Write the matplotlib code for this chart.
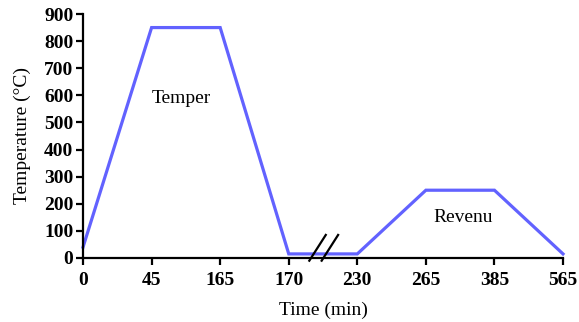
import matplotlib
matplotlib.use('Agg')
import matplotlib.pyplot as plt

# category-style time axis (ticks are evenly spaced, not to scale)
time_labels = ['0', '45', '165', '170', '230', '265', '385', '565']
temperature = [40, 850, 850, 15, 15, 250, 250, 15]
y_ticks = [0, 100, 200, 300, 400, 500, 600, 700, 800, 900]

plt.rcParams['font.family'] = ['Liberation Serif', 'DejaVu Serif']

fig = plt.figure(figsize=(5.79, 3.22), dpi=100)
ax = fig.add_axes([0.1434, 0.1988, 0.8290, 0.7577])

pos = list(range(len(time_labels)))
ax.plot(pos, temperature, color='#6262ff', lw=2.3, solid_joinstyle='miter', clip_on=False)

# axis break marks between 170 and 230
for xb in (3.42, 3.6):
    ax.plot([xb - 0.12, xb + 0.12], [-10, 85], color='black', lw=1.6, clip_on=False)

ax.text(1.44, 590, 'Temper', fontsize=14, ha='center', va='center')
ax.text(5.54, 150, 'Revenu', fontsize=14, ha='center', va='center')

ax.set_xlim(0, 7)
ax.set_ylim(0, 900)
ax.set_xticks(pos)
ax.set_xticklabels(time_labels, fontweight='bold', fontsize=14)
ax.set_yticks(y_ticks)
ax.set_yticklabels([str(v) for v in y_ticks], fontweight='bold', fontsize=14)
ax.set_xlabel('Time (min)', fontsize=14, labelpad=9)
ax.set_ylabel('Temperature (°C)', fontsize=14, labelpad=9)

for s in ['top', 'right']:
    ax.spines[s].set_visible(False)
for s in ['left', 'bottom']:
    ax.spines[s].set_linewidth(1.6)
ax.tick_params(width=1.6, length=5, pad=2)
ax.tick_params(axis='x', pad=5)

plt.savefig('out.png', dpi=100)
